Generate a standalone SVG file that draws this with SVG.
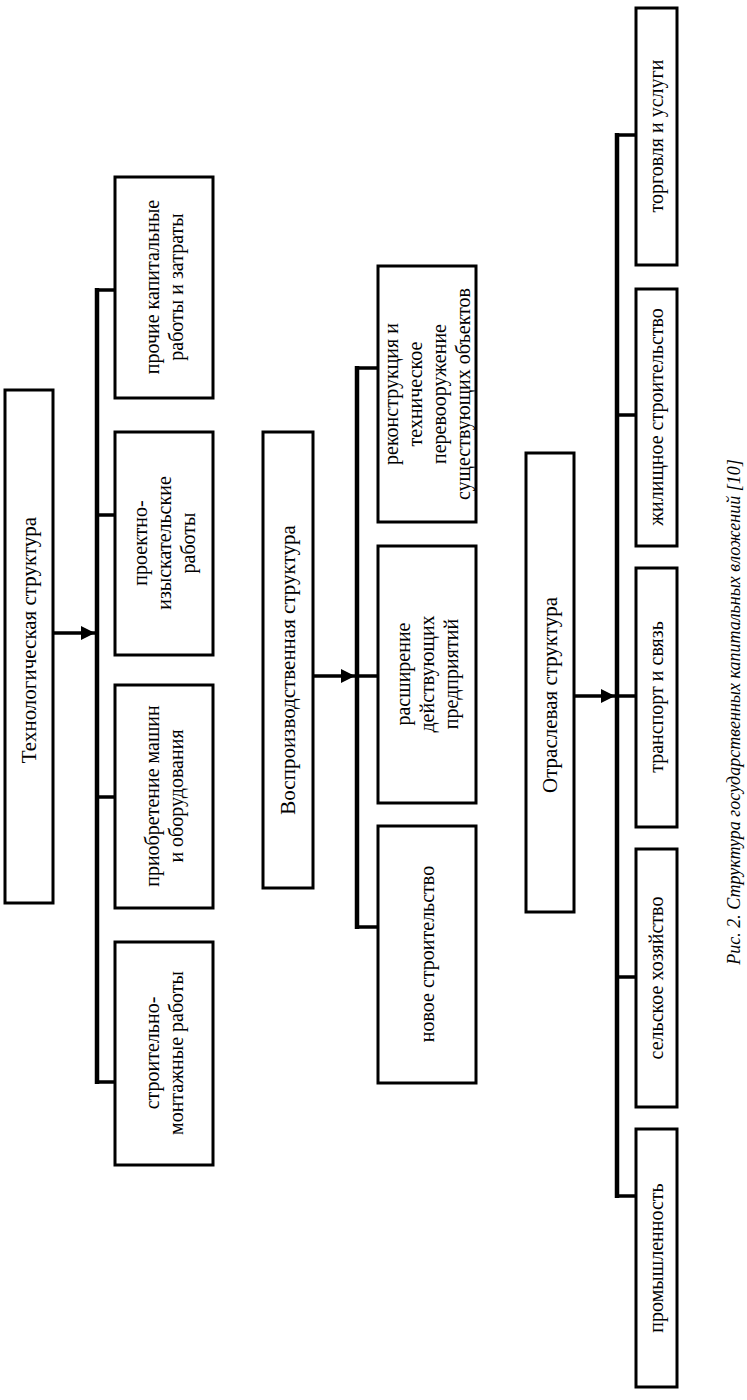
<svg xmlns="http://www.w3.org/2000/svg" width="747" height="1400" viewBox="0 0 747 1400">
<style>
.box{fill:#fff;stroke:#000;stroke-width:3}
.t{font-family:"Liberation Serif","Times New Roman",serif;font-size:20px;fill:#000;text-anchor:middle}
.h{font-family:"Liberation Serif","Times New Roman",serif;font-size:21px;fill:#000;text-anchor:middle}
.cap{font-family:"Liberation Serif","Times New Roman",serif;font-size:18px;font-style:italic;fill:#000;text-anchor:middle}
.bus{stroke:#000;stroke-width:4.5;fill:none}
.stub{stroke:#000;stroke-width:3.5;fill:none}
</style>
<defs>
<marker id="ah" markerWidth="4" markerHeight="4" refX="4" refY="2" orient="auto" markerUnits="strokeWidth">
<path d="M0,0 L4,2 L0,4 Z" fill="#000"/>
</marker>
</defs>
<rect width="747" height="1400" fill="#fff"/>

<g id="connectors">
<line class="bus" x1="97" y1="288" x2="97" y2="1084"/>
<line class="stub" x1="95" y1="290" x2="115" y2="290"/>
<line class="stub" x1="95" y1="515" x2="115" y2="515"/>
<line class="stub" x1="95" y1="797" x2="115" y2="797"/>
<line class="stub" x1="95" y1="1082" x2="115" y2="1082"/>
<line class="stub" x1="53" y1="633" x2="95" y2="633" marker-end="url(#ah)"/>

<line class="bus" x1="357" y1="366" x2="357" y2="929"/>
<line class="stub" x1="355" y1="368" x2="378" y2="368"/>
<line class="stub" x1="355" y1="676" x2="378" y2="676"/>
<line class="stub" x1="355" y1="927" x2="378" y2="927"/>
<line class="stub" x1="313" y1="676" x2="355" y2="676" marker-end="url(#ah)"/>

<line class="bus" x1="617" y1="133" x2="617" y2="1198"/>
<line class="stub" x1="615" y1="135" x2="636" y2="135"/>
<line class="stub" x1="615" y1="415" x2="636" y2="415"/>
<line class="stub" x1="615" y1="696" x2="636" y2="696"/>
<line class="stub" x1="615" y1="977" x2="636" y2="977"/>
<line class="stub" x1="615" y1="1196" x2="636" y2="1196"/>
<line class="stub" x1="574" y1="696" x2="615" y2="696" marker-end="url(#ah)"/>
</g>

<g id="tech-header"><rect class="box" x="5" y="390" width="48" height="513"/>
<text class="h" transform="translate(29,640) rotate(-90)" y="7">Технологическая структура</text></g>
<g id="tech-other"><rect class="box" x="115" y="177" width="98" height="221"/>
<text class="t" transform="translate(164,287) rotate(-90)"><tspan x="0" y="-5">прочие капитальные</tspan><tspan x="0" y="19">работы и затраты</tspan></text></g>
<g id="tech-design"><rect class="box" x="115" y="432" width="98" height="223"/>
<text class="t" transform="translate(164,543) rotate(-90)"><tspan x="0" y="-17">проектно-</tspan><tspan x="0" y="7">изыскательские</tspan><tspan x="0" y="31">работы</tspan></text></g>
<g id="tech-machines"><rect class="box" x="115" y="685" width="98" height="223"/>
<text class="t" transform="translate(164,796) rotate(-90)"><tspan x="0" y="-5">приобретение машин</tspan><tspan x="0" y="19">и оборудования</tspan></text></g>
<g id="tech-construction"><rect class="box" x="115" y="942" width="98" height="223"/>
<text class="t" transform="translate(164,1053) rotate(-90)"><tspan x="0" y="-5">строительно-</tspan><tspan x="0" y="19">монтажные работы</tspan></text></g>

<g id="repro-header"><rect class="box" x="263" y="432" width="50" height="456"/>
<text class="h" transform="translate(288,670) rotate(-90)" y="7">Воспроизводственная структура</text></g>
<g id="repro-reconstruction"><rect class="box" x="378" y="266" width="98" height="256"/>
<text class="t" transform="translate(427,394) rotate(-90)"><tspan x="0" y="-29">реконструкция и</tspan><tspan x="0" y="-5">техническое</tspan><tspan x="0" y="19">перевооружение</tspan><tspan x="0" y="43">существующих объектов</tspan></text></g>
<g id="repro-expansion"><rect class="box" x="378" y="546" width="98" height="257"/>
<text class="t" transform="translate(427,674) rotate(-90)"><tspan x="0" y="-17">расширение</tspan><tspan x="0" y="7">действующих</tspan><tspan x="0" y="31">предприятий</tspan></text></g>
<g id="repro-new"><rect class="box" x="378" y="826" width="98" height="257"/>
<text class="t" transform="translate(427,954) rotate(-90)" y="7">новое строительство</text></g>

<g id="branch-header"><rect class="box" x="526" y="453" width="48" height="459"/>
<text class="h" transform="translate(550,695) rotate(-90)" y="7">Отраслевая структура</text></g>
<g id="branch-trade"><rect class="box" x="636" y="8" width="41" height="257"/>
<text class="t" transform="translate(656,136) rotate(-90)" y="7">торговля и услуги</text></g>
<g id="branch-housing"><rect class="box" x="636" y="289" width="41" height="257"/>
<text class="t" transform="translate(656,417) rotate(-90)" y="7">жилищное строительство</text></g>
<g id="branch-transport"><rect class="box" x="636" y="568" width="41" height="259"/>
<text class="t" transform="translate(656,697) rotate(-90)" y="7">транспорт и связь</text></g>
<g id="branch-agri"><rect class="box" x="636" y="849" width="41" height="258"/>
<text class="t" transform="translate(656,978) rotate(-90)" y="7">сельское хозяйство</text></g>
<g id="branch-industry"><rect class="box" x="636" y="1129" width="41" height="258"/>
<text class="t" transform="translate(656,1258) rotate(-90)" y="7">промышленность</text></g>

<text class="cap" transform="translate(734,712) rotate(-90)" y="6">Рис. 2. Структура государственных капитальных вложений [10]</text>
</svg>
